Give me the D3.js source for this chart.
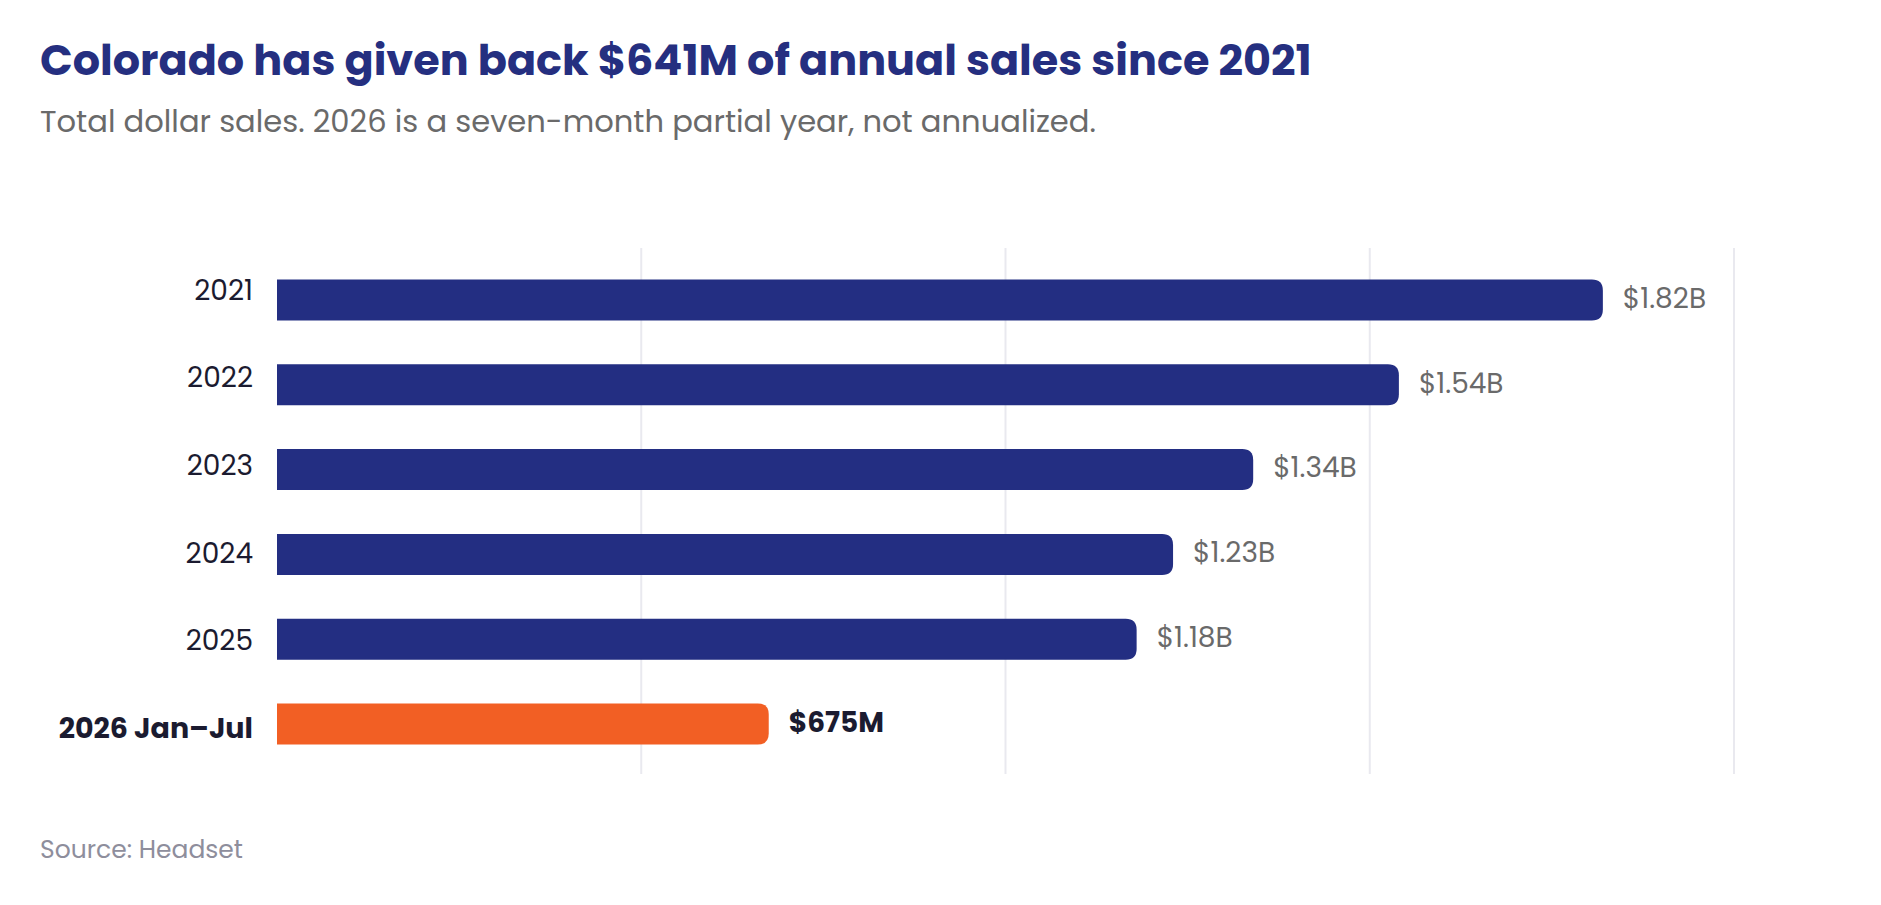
<!DOCTYPE html>
<html>
<head>
<meta charset="utf-8">
<script src="https://cdn.jsdelivr.net/npm/d3@7"></script>
<style>
  html, body { margin: 0; padding: 0; background: #fff; }
  svg text { font-family: Poppins, Inter, "Noto Sans", sans-serif; }
</style>
</head>
<body>
<div id="chart"></div>
<script>
// data
var categories = ["2021", "2022", "2023", "2024", "2025", "2026 Jan\u2013Jul"];
var sales = [1.82, 1.54, 1.34, 1.23, 1.18, 0.675]; // billions
var valueLabels = ["$1.82B", "$1.54B", "$1.34B", "$1.23B", "$1.18B", "$675M"];
var gridTicks = [0.5, 1.0, 1.5, 2.0];

var w = 1881, h = 905;
var navy = "#232e82", orange = "#f25f24";

var svg = d3.select("#chart").append("svg")
    .attr("width", w)
    .attr("height", h);

// fit a text to a width by adjusting font size
function fit(sel, width) {
    var fs = parseFloat(sel.attr("font-size"));
    var len = sel.node().getComputedTextLength();
    sel.attr("font-size", fs * width / len);
}

var title = svg.append("text")
    .attr("x", 40).attr("y", 75)
    .attr("font-size", 40).attr("font-weight", 700)
    .attr("fill", "#252f80")
    .text("Colorado has given back $641M of annual sales since 2021");
fit(title, 1272);

var sub = svg.append("text")
    .attr("x", 40).attr("y", 132)
    .attr("font-size", 26)
    .attr("fill", "#6a6a6a")
    .text("Total dollar sales. 2026 is a seven-month partial year, not annualized.");
fit(sub, 1056);

var x = d3.scaleLinear().domain([0, 2]).range([277, 1734]);
var y = d3.scalePoint().domain(categories).range([300, 724]);   // bar centers
var yl = d3.scalePoint().domain(categories).range([290, 728]);  // category label centers
var bh = 41, r = 11;

// grid
svg.append("g").selectAll("line")
    .data(gridTicks)
    .enter().append("line")
    .attr("x1", d => x(d)).attr("x2", d => x(d))
    .attr("y1", 248).attr("y2", 774)
    .attr("stroke", "#e9e9ef")
    .attr("stroke-width", 2);

var rows = categories.map((c, i) => ({ cat: c, v: sales[i], label: valueLabels[i], last: i === categories.length - 1 }));

// bars with rounded right end only
svg.append("g").selectAll("path")
    .data(rows)
    .enter().append("path")
    .attr("fill", d => d.last ? orange : navy)
    .attr("d", d => {
        var x0 = x(0), x1 = x(d.v), y0 = y(d.cat) - bh / 2, y1 = y0 + bh;
        return "M" + x0 + "," + y0 + "H" + (x1 - r) +
            "Q" + x1 + "," + y0 + " " + x1 + "," + (y0 + r) +
            "V" + (y1 - r) +
            "Q" + x1 + "," + y1 + " " + (x1 - r) + "," + y1 +
            "H" + x0 + "Z";
    });

// category labels
svg.append("g").selectAll("text")
    .data(rows)
    .enter().append("text")
    .attr("x", 253)
    .attr("y", d => yl(d.cat))
    .attr("dy", "0.35em")
    .attr("text-anchor", "end")
    .attr("font-size", d => d.last ? 28.5 : 28)
    .attr("font-weight", d => d.last ? 700 : 400)
    .attr("fill", "#1b1b30")
    .text(d => d.cat);

// value labels
svg.append("g").selectAll("text")
    .data(rows)
    .enter().append("text")
    .attr("x", d => x(d.v) + 20)
    .attr("y", d => y(d.cat) - 2)
    .attr("dy", "0.35em")
    .attr("font-size", 28)
    .attr("font-weight", d => d.last ? 700 : 400)
    .attr("fill", d => d.last ? "#1b1b30" : "#6a6a6a")
    .text(d => d.label);

svg.append("text")
    .attr("x", 40).attr("y", 858)
    .attr("font-size", 25)
    .attr("fill", "#8e8e9c")
    .text("Source: Headset");
</script>
</body>
</html>
